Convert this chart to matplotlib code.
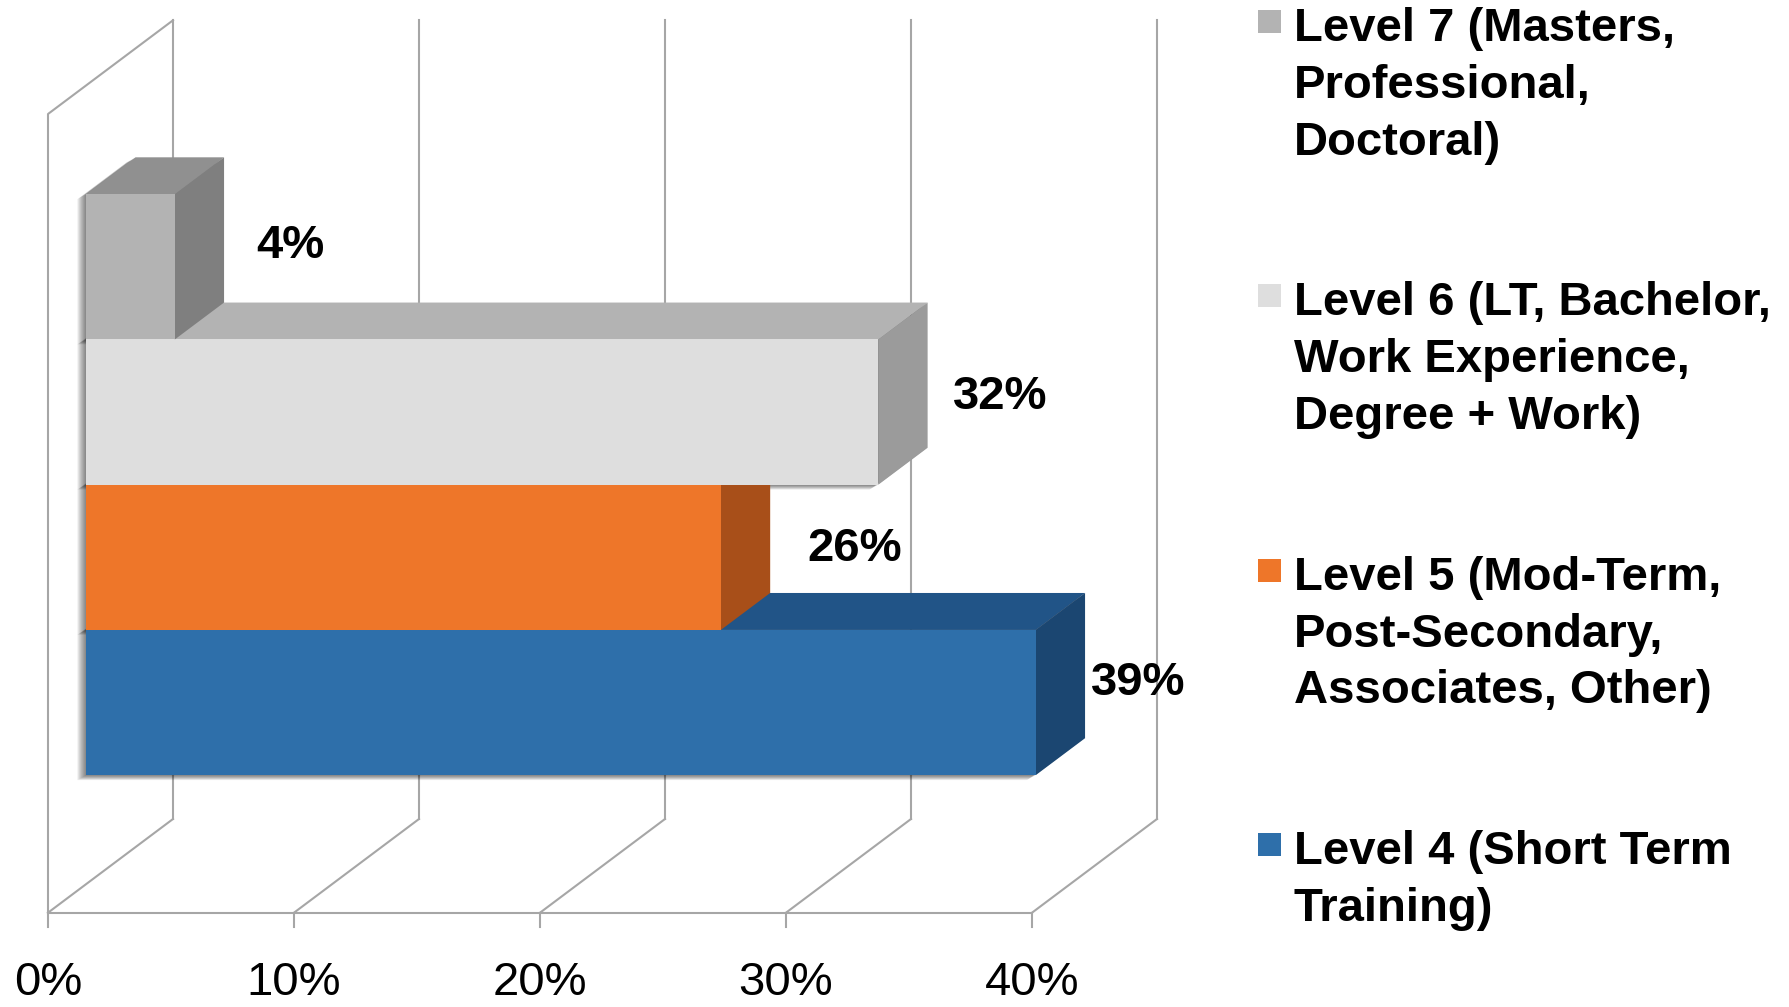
import matplotlib
matplotlib.use("Agg")
import matplotlib.pyplot as plt
from matplotlib.patches import Polygon, Rectangle
from matplotlib import transforms

# data (bottom bar first)
levels = [
    "Level 4 (Short Term\nTraining)",
    "Level 5 (Mod-Term,\nPost-Secondary,\nAssociates, Other)",
    "Level 6 (LT, Bachelor,\nWork Experience,\nDegree + Work)",
    "Level 7 (Masters,\nProfessional,\nDoctoral)",
]
shares = [38.6, 25.8, 32.2, 3.6]
share_labels = ["39%", "26%", "32%", "4%"]
ticks = [0, 10, 20, 30, 40]
tick_labels = ["0%", "10%", "20%", "30%", "40%"]

front_colors = ["#2E6FAA", "#EE7629", "#DEDEDE", "#B3B3B3"]
top_colors = ["#215487", "#B85A1E", "#B3B3B3", "#909090"]
side_colors = ["#1B4671", "#A84F19", "#9B9B9B", "#7F7F7F"]
grid_color = "#A6A6A6"
# small hand nudges of the value labels, in points
label_nudge = [(-12, 1), (11, -7), (2, -2), (-2, 2)]

plt.rcParams["font.family"] = ["Liberation Sans", "DejaVu Sans"]

# canvas geometry (pixels)
W, H = 1789, 1007
X0_PX = 48.0          # 0% on the front plane
PX_PER_PCT = 24.6
FLOOR_PX = 912.7      # floor line, from top
UNIT_PX = 798.7       # wall height
DEPTH_X_PX = 125.0
DEPTH_Y_PX = 93.7

DX = DEPTH_X_PX / PX_PER_PCT
DY = DEPTH_Y_PX / UNIT_PX
D0, D1 = 0.306, 0.70  # bar depth span
GAP = 0.75            # gap on each side, in bar heights
bar_h = 1.0 / (len(shares) + 2 * GAP)


def P(x, y, d):
    return (x + d * DX, y + d * DY)


fig = plt.figure(figsize=(W / 100, H / 100), dpi=100)
ax = fig.add_axes([0, 0, 1, 1])
ax.set_xlim(-X0_PX / PX_PER_PCT, (W - X0_PX) / PX_PER_PCT)
ax.set_ylim(-(H - FLOOR_PX) / UNIT_PX, FLOOR_PX / UNIT_PX)
ax.axis("off")

# walls and floor
lw = 1.5
xmax = ticks[-1]
for t, lab in zip(ticks, tick_labels):
    ax.plot(*zip(P(t, 0, 1), P(t, 1, 1)), color=grid_color, lw=lw, zorder=1)
    ax.plot(*zip(P(t, 0, 0), P(t, 0, 1)), color=grid_color, lw=lw, zorder=1)
    ax.plot([t, t], [0, -0.018], color=grid_color, lw=lw, zorder=1)
    ax.text(t, -0.088, lab, ha="center", va="center", fontsize=34, color="black")
ax.plot(*zip(P(0, 0, 0), P(xmax, 0, 0)), color=grid_color, lw=lw, zorder=1)
ax.plot(*zip(P(0, 0, 0), P(0, 1, 0), P(0, 1, 1)), color=grid_color, lw=lw, zorder=1)

# soft shadow on the left of the bars
for i, v in enumerate(shares):
    y0 = (GAP + i) * bar_h
    y1 = y0 + bar_h
    outline = [P(0, y0, D0), P(v, y0, D0), P(v, y0, D1), P(v, y1, D1),
               P(0, y1, D1), P(0, y1, D0)]
    for k in range(1, 11):
        tr = transforms.offset_copy(ax.transData, fig=fig, x=-0.9 * k, y=-0.5 * k, units="dots")
        ax.add_patch(Polygon(outline, closed=True, facecolor="black", edgecolor="none",
                             alpha=0.06, transform=tr, zorder=2))

# bars, bottom to top
for i, v in enumerate(shares):
    y0 = (GAP + i) * bar_h
    y1 = y0 + bar_h
    z = 3 + i
    top = [P(0, y1, D0), P(v, y1, D0), P(v, y1, D1), P(0, y1, D1)]
    side = [P(v, y0, D0), P(v, y0, D1), P(v, y1, D1), P(v, y1, D0)]
    front = [P(0, y0, D0), P(v, y0, D0), P(v, y1, D0), P(0, y1, D0)]
    ax.add_patch(Polygon(top, closed=True, facecolor=top_colors[i], edgecolor="none", zorder=z))
    ax.add_patch(Polygon(side, closed=True, facecolor=side_colors[i], edgecolor="none", zorder=z))
    ax.add_patch(Polygon(front, closed=True, facecolor=front_colors[i], edgecolor="none", zorder=z))
    nx, ny = label_nudge[i]
    ax.annotate(share_labels[i], xy=P(v, (y0 + y1) / 2, 0.5), xytext=(68 + nx, ny),
                textcoords="offset points", ha="center", va="center",
                fontsize=34, fontweight="bold", zorder=10)

# legend, top entry first
ENTRY_PX = 274.3
for j, i in enumerate(reversed(range(len(levels)))):
    top_px = 10 + j * ENTRY_PX
    fig.patches.append(Rectangle((1258 / W, 1 - (top_px + 23) / H), 23 / W, 23 / H,
                                 transform=fig.transFigure, facecolor=front_colors[i],
                                 edgecolor="none"))
    fig.text(1294 / W, 1 - (7 + j * ENTRY_PX) / H, levels[i], ha="left", va="top",
             fontsize=34, fontweight="bold", linespacing=1.38)

fig.savefig("out.png", dpi=100)
